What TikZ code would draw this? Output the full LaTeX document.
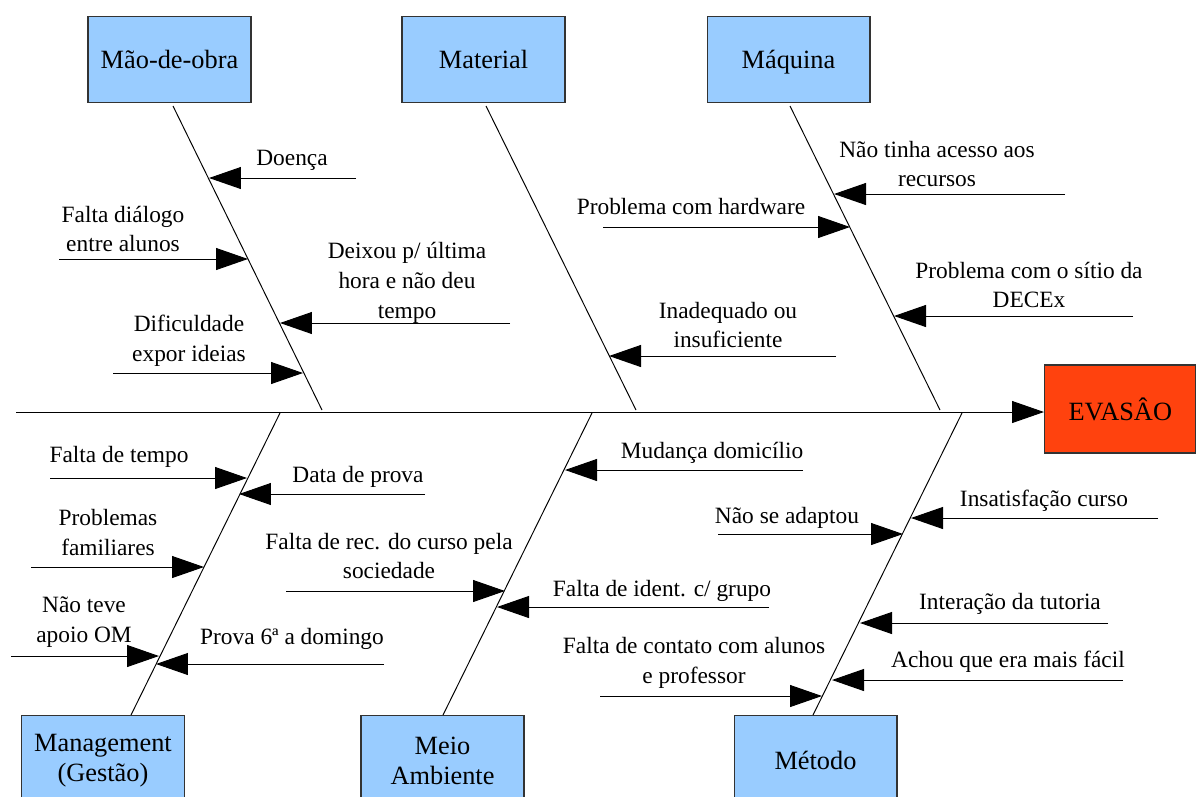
\documentclass[tikz,border=0pt]{standalone}
\usepackage{fontspec}
\setmainfont{Liberation Serif}
\usetikzlibrary{arrows.meta}
\definecolor{boxblue}{HTML}{99CCFF}
\definecolor{evred}{HTML}{FF420E}
\begin{document}
\begin{tikzpicture}[x=0.02cm,y=-0.02cm,
  catbox/.style={draw=black!80, fill=boxblue, line width=0.6pt, minimum width=3.26cm, minimum height=1.72cm, align=center, inner sep=0pt, font=\rmfamily\fontsize{15}{17}\selectfont},
  effbox/.style={draw=black!80, fill=evred, line width=0.6pt, minimum width=3.03cm, minimum height=1.76cm, align=center, inner sep=0pt, font=\rmfamily\fontsize{15}{17}\selectfont},
  lbl/.style={align=center, inner sep=0pt, font=\rmfamily\fontsize{13.3}{17}\selectfont},
  bone/.style={line width=0.55pt, black},
  arr/.style={line width=0.55pt, black, -{Triangle[length=0.64cm,width=0.44cm]}}]
\useasboundingbox (0,0) rectangle (1196,796);
% category boxes
\node[catbox, anchor=north] (mao) at (169.5,16) {Mão-de-obra};
\node[catbox, anchor=north] (mat) at (483.5,16) {Material};
\node[catbox, anchor=north, text depth=0pt] (maq) at (788.5,16) {Máquina};
\node[catbox, anchor=north, minimum height=1.8cm] (ges) at (103,715) {Management\\(Gestão)};
\node[catbox, anchor=north, minimum height=1.8cm] (amb) at (442.5,715) {Meio\\Ambiente};
\node[catbox, anchor=north, minimum height=1.8cm] (met) at (815.5,715) {Método};
\node[effbox, anchor=west] (eva) at (1044,409) {EVASÂO};
% spine
\coordinate (s0) at (16,412);
\draw[arr] (s0) -- (eva.west |- s0);
% bones
\coordinate (b1a) at (173,106); \coordinate (b1b) at (322,410);
\coordinate (b2a) at (486,106); \coordinate (b2b) at (636,410);
\coordinate (b3a) at (790,106); \coordinate (b3b) at (940,410);
\coordinate (b4a) at (280,413); \coordinate (b4b) at (131,715);
\coordinate (b5a) at (592,413); \coordinate (b5b) at (443,715);
\coordinate (b6a) at (962,413); \coordinate (b6b) at (813,715);
\draw[bone] (b1a) -- (b1b);
\draw[bone] (b2a) -- (b2b);
\draw[bone] (b3a) -- (b3b);
\draw[bone] (b4a) -- (b4b);
\draw[bone] (b5a) -- (b5b);
\draw[bone] (b6a) -- (b6b);
% Mao-de-obra causes
\coordinate (c1s) at (356,178); \coordinate (c1t) at (209,178);
\coordinate (c2s) at (59,259); \coordinate (c2t) at (248,259);
\coordinate (c3s) at (510,323); \coordinate (c3t) at (280,323);
\coordinate (c4s) at (113,373); \coordinate (c4t) at (303,373);
\draw[arr] (c1s) -- (c1t);
\draw[arr] (c2s) -- (c2t);
\draw[arr] (c3s) -- (c3t);
\draw[arr] (c4s) -- (c4t);
\node[lbl] (t1) at (292,160) {Doença};
\node[lbl] (t2) at (123,229) {Falta diálogo\\entre alunos};
\node[lbl] (t3) at (407,283) {Deixou p/ última\\hora e não deu\\tempo};
\node[lbl] (t4) at (189,341) {Dificuldade\\expor ideias};
% Material
\coordinate (c5s) at (836,356); \coordinate (c5t) at (609,356);
\draw[arr] (c5s) -- (c5t);
\node[lbl] (t5) at (728,325) {Inadequado ou\\insuficiente};
% Maquina
\coordinate (c6s) at (603,227); \coordinate (c6t) at (850,227);
\coordinate (c7s) at (1065,194); \coordinate (c7t) at (834,194);
\coordinate (c8s) at (1133,316); \coordinate (c8t) at (894,316);
\draw[arr] (c6s) -- (c6t);
\draw[arr] (c7s) -- (c7t);
\draw[arr] (c8s) -- (c8t);
\node[lbl] (t6) at (691,206) {Problema com hardware};
\node[lbl] (t7) at (937,164) {Não tinha acesso aos\\recursos};
\node[lbl] (t8) at (1029,285) {Problema com o sítio da\\DECEx};
% Management
\coordinate (c9s) at (50,478); \coordinate (c9t) at (247,478);
\coordinate (c10s) at (425,494); \coordinate (c10t) at (239,494);
\coordinate (c11s) at (31,567); \coordinate (c11t) at (204,567);
\coordinate (c12s) at (11,656); \coordinate (c12t) at (159,656);
\coordinate (c13s) at (384,664); \coordinate (c13t) at (156,664);
\draw[arr] (c9s) -- (c9t);
\draw[arr] (c10s) -- (c10t);
\draw[arr] (c11s) -- (c11t);
\draw[arr] (c12s) -- (c12t);
\draw[arr] (c13s) -- (c13t);
\node[lbl] (t9) at (119,457) {Falta de tempo};
\node[lbl] (t10) at (358,477) {Data de prova};
\node[lbl] (t11) at (108,532.5) {Problemas\\familiares};
\node[lbl] (t12) at (84,622) {Não teve\\apoio OM};
\node[lbl] (t13) at (292,639) {Prova 6ª a domingo};
% Meio Ambiente
\coordinate (c14s) at (803,470); \coordinate (c14t) at (565,470);
\coordinate (c15s) at (286,591); \coordinate (c15t) at (505,591);
\coordinate (c16s) at (769,607); \coordinate (c16t) at (497,607);
\draw[arr] (c14s) -- (c14t);
\draw[arr] (c15s) -- (c15t);
\draw[arr] (c16s) -- (c16t);
\node[lbl] (t14) at (712,453) {Mudança domicílio};
\node[lbl] (t15) at (389,556) {Falta de rec. do curso pela\\sociedade};
\node[lbl] (t16) at (662,591) {Falta de ident. c/ grupo};
% Metodo
\coordinate (c17s) at (1158,518); \coordinate (c17t) at (911,518);
\coordinate (c18s) at (718,534); \coordinate (c18t) at (903,534);
\coordinate (c19s) at (1108,623); \coordinate (c19t) at (860,623);
\coordinate (c20s) at (1123,680); \coordinate (c20t) at (832,680);
\coordinate (c21s) at (600,696); \coordinate (c21t) at (822,696);
\draw[arr] (c17s) -- (c17t);
\draw[arr] (c18s) -- (c18t);
\draw[arr] (c19s) -- (c19t);
\draw[arr] (c20s) -- (c20t);
\draw[arr] (c21s) -- (c21t);
\node[lbl] (t17) at (1044,501) {Insatisfação curso};
\node[lbl] (t18) at (787,518) {Não se adaptou};
\node[lbl] (t19) at (1010,604) {Interação da tutoria};
\node[lbl] (t20) at (1008,662) {Achou que era mais fácil};
\node[lbl] (t21) at (694,663) {Falta de contato com alunos\\e professor};
\end{tikzpicture}
\end{document}
